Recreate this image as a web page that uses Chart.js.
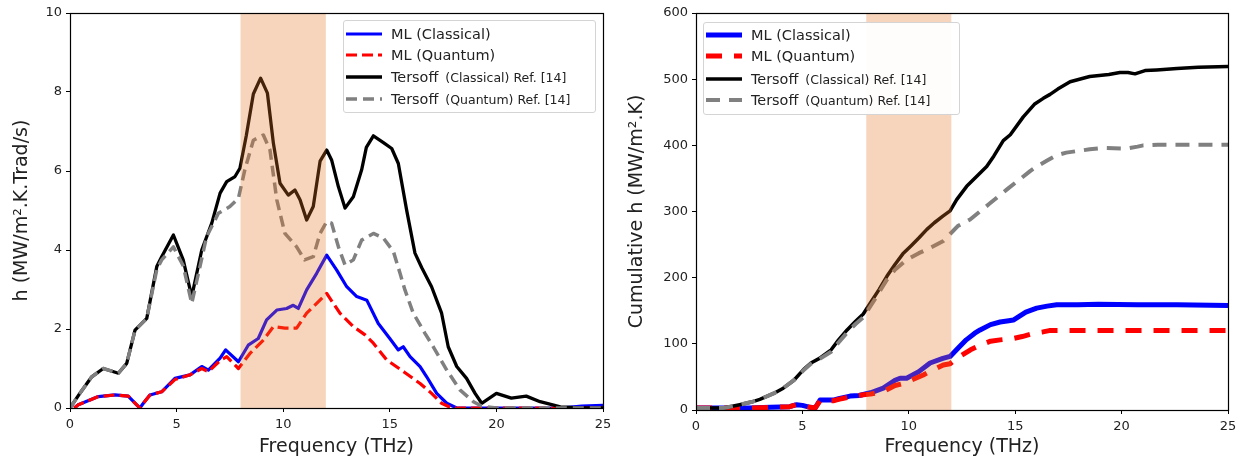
<!DOCTYPE html>
<html>
<head>
<meta charset="utf-8">
<script src="https://cdn.jsdelivr.net/npm/chart.js@4.4.1/dist/chart.umd.min.js"></script>
<style>
  body { margin: 0; background: #fff; }
  #wrap { position: relative; width: 1244px; height: 464px; font-family: 'DejaVu Sans', sans-serif; }
  canvas { position: absolute; top: 0; }
  .legend { position: absolute; background: rgba(255,255,255,0.95); border: 1px solid #d4d4d4; border-radius: 3px; box-sizing: border-box; }
  .row { position: absolute; left: 2px; height: 20px; display: flex; align-items: center; white-space: nowrap; color: #222; }
  .row svg { margin-right: 9px; }
  .big { font-size: 14.4px; margin-right: 7px; }
  .small { font-size: 12.5px; }
  .ml { font-size: 14.5px; }
</style>
</head>
<body>
<div id="wrap">
  <canvas id="hChart" width="620" height="464" style="left:0"></canvas>
  <canvas id="cumChart" width="624" height="464" style="left:620px"></canvas>
  <div id="hLegend" class="legend" style="left:343px; top:20px; width:253px; height:93px"></div>
  <div id="cumLegend" class="legend" style="left:703px; top:22px; width:257px; height:93px"></div>
</div>
<script>
// Etiquetas
const labels = ['ML (Classical)', 'ML (Quantum)', 'Tersoff  (Classical) Ref. [14]', 'Tersoff  (Quantum) Ref. [14]']
const bandRange = [8, 12] // zona sombreada (THz)

// Gráfico izquierdo: h espectral
const mlClassicalF = [0.2, 0.39, 1.33, 2.11, 2.73, 3.13, 3.28, 3.44, 3.75, 4.3, 4.92, 5.63, 6.18, 6.49, 7.04, 7.3, 7.9, 8.36, 8.83, 9.22, 9.7, 10.16, 10.47, 10.71, 11.1, 11.57, 12.04, 12.51, 12.98, 13.45, 13.92, 14.46, 15.0, 15.4, 15.63, 15.95, 16.42, 16.73, 17.2, 17.67, 18.14, 20, 23, 24, 25]
const mlClassicalH = [0, 0.08, 0.29, 0.33, 0.3, 0.08, 0, 0.12, 0.33, 0.41, 0.75, 0.84, 1.05, 0.96, 1.26, 1.47, 1.17, 1.59, 1.76, 2.23, 2.48, 2.52, 2.6, 2.52, 2.99, 3.41, 3.87, 3.49, 3.07, 2.82, 2.73, 2.14, 1.76, 1.47, 1.55, 1.3, 1.05, 0.79, 0.37, 0.12, 0, 0, 0, 0.05, 0.07]

const mlQuantumF = [0.2, 0.39, 1.33, 2.11, 2.73, 3.13, 3.28, 3.44, 3.75, 4.3, 4.92, 5.63, 6.18, 6.49, 7.04, 7.35, 7.9, 8.44, 9.07, 9.54, 10.08, 10.63, 11.1, 11.57, 12.04, 12.66, 13.29, 13.84, 14.23, 14.85, 15.7, 16.42, 16.96, 17.43, 17.9, 25]
const mlQuantumH = [0, 0.08, 0.29, 0.33, 0.3, 0.08, 0, 0.12, 0.33, 0.41, 0.72, 0.84, 1.0, 0.92, 1.2, 1.3, 1.0, 1.38, 1.72, 2.06, 2.02, 2.02, 2.4, 2.65, 2.9, 2.4, 2.06, 1.85, 1.64, 1.22, 0.9, 0.62, 0.37, 0.12, 0, 0]

const tersoffClassicalF = [0, 0.5, 1.02, 1.56, 2.27, 2.66, 3.05, 3.6, 4.07, 4.3, 4.85, 5.31, 5.71, 6.18, 6.65, 7.04, 7.35, 7.74, 7.97, 8.27, 8.6, 8.94, 9.26, 9.54, 9.85, 10.24, 10.55, 10.79, 11.1, 11.41, 11.73, 12.04, 12.27, 12.59, 12.9, 13.29, 13.68, 13.9, 14.23, 14.7, 15.09, 15.4, 15.79, 16.18, 16.5, 16.96, 17.43, 17.74, 18.14, 18.6, 19.0, 19.31, 20.0, 20.7, 21.4, 22.05, 23.0, 24.0, 25]
const tersoffClassicalH = [0, 0.4, 0.79, 1.0, 0.88, 1.13, 1.97, 2.27, 3.58, 3.83, 4.38, 3.75, 2.82, 4.0, 4.68, 5.44, 5.73, 5.86, 6.07, 6.9, 7.95, 8.35, 7.97, 6.7, 5.69, 5.39, 5.52, 5.27, 4.76, 5.1, 6.25, 6.53, 6.28, 5.6, 5.06, 5.35, 6.03, 6.6, 6.89, 6.72, 6.57, 6.19, 5.01, 3.92, 3.55, 3.07, 2.4, 1.55, 1.05, 0.75, 0.37, 0.12, 0.37, 0.25, 0.3, 0.16, 0.03, 0, 0]

const tersoffQuantumF = [0, 0.5, 1.02, 1.56, 2.27, 2.66, 3.05, 3.6, 4.07, 4.3, 4.85, 5.31, 5.71, 6.41, 6.96, 7.5, 7.9, 8.2, 8.6, 9.07, 9.38, 9.7, 10.08, 10.63, 11.0, 11.41, 11.73, 12.04, 12.27, 12.59, 12.9, 13.29, 13.68, 14.23, 14.7, 15.17, 15.48, 15.71, 16.1, 16.65, 17.04, 17.67, 18.29, 18.92, 19.3, 20, 25]
const tersoffQuantumH = [0, 0.4, 0.79, 1.0, 0.88, 1.13, 1.97, 2.27, 3.5, 3.75, 4.08, 3.6, 2.65, 4.34, 4.93, 5.1, 5.31, 6.03, 6.78, 6.91, 6.53, 5.27, 4.42, 4.08, 3.75, 3.83, 4.42, 4.72, 4.68, 4.08, 3.62, 3.75, 4.25, 4.42, 4.3, 3.96, 3.41, 2.99, 2.4, 1.89, 1.55, 0.96, 0.46, 0.16, 0.05, 0, 0]

// Gráfico derecho: h acumulado
const mlClassicalCumF = [0, 2.5, 3.5, 4.4, 4.73, 5.0, 5.36, 5.6, 5.83, 6.45, 6.7, 7.24, 7.67, 8.2, 8.8, 9.35, 9.59, 9.9, 10.47, 11.0, 11.6, 11.94, 12.3, 12.7, 13.1, 13.35, 13.84, 14.29, 14.7, 14.91, 15.5, 16.01, 16.5, 16.95, 17.95, 18.9, 20.75, 22.6, 25]
const mlClassicalCum = [3, 3, 4, 5, 8, 7, 4, 3, 15, 15, 17, 21, 22, 26, 33, 45, 48, 48, 58, 71, 78, 81, 93, 106, 116, 121, 129, 133, 135, 136, 148, 154, 157, 159, 159, 160, 159, 159, 158]

const mlQuantumCumF = [0, 2.5, 3.5, 4.4, 4.73, 5.0, 5.36, 5.6, 5.83, 6.45, 6.7, 7.24, 7.86, 8.2, 8.8, 9.35, 9.74, 10.1, 10.68, 11.1, 11.62, 11.94, 12.25, 12.9, 13.35, 13.84, 14.29, 14.91, 15.33, 15.9, 16.3, 16.6, 17.0, 25]
const mlQuantumCum = [3, 3, 4, 5, 8, 7, 4, 3, 14, 14, 16, 20, 23, 24, 28, 37, 40, 45, 53, 60, 68, 70, 78, 91, 98, 104, 106, 108, 111, 116, 118, 120, 120, 120]

const tersoffClassicalCumF = [0, 1.3, 2.05, 2.6, 3.0, 3.65, 4.1, 4.6, 5.05, 5.4, 5.8, 6.35, 6.7, 7.1, 7.5, 7.86, 8.2, 8.6, 8.97, 9.35, 9.72, 10.1, 10.47, 10.85, 11.2, 11.6, 11.94, 12.25, 12.72, 13.28, 13.66, 14.0, 14.44, 14.77, 15.38, 15.9, 16.32, 16.64, 17.0, 17.58, 18.5, 19.4, 19.92, 20.3, 20.63, 21.1, 21.65, 22.6, 23.6, 25]
const tersoffClassicalCum = [3, 3, 8, 12, 16, 25, 33, 45, 61, 71, 78, 91, 106, 121, 134, 145, 162, 182, 202, 220, 236, 248, 260, 273, 283, 293, 301, 318, 338, 356, 368, 384, 407, 416, 443, 462, 471, 477, 485, 496, 504, 507, 510, 510, 508, 513, 514, 516, 518, 519]

const tersoffQuantumCumF = [0, 1.3, 2.05, 2.6, 3.0, 3.65, 4.1, 4.6, 5.05, 5.4, 5.8, 6.35, 6.7, 7.1, 7.5, 7.86, 8.4, 8.97, 9.35, 9.9, 10.47, 11.0, 11.6, 11.94, 12.3, 12.88, 13.46, 13.8, 14.6, 15.07, 15.7, 16.01, 16.5, 16.95, 17.4, 18.5, 19.1, 20.24, 20.75, 21.02, 21.7, 25]
const tersoffQuantumCum = [3, 3, 8, 12, 16, 25, 33, 45, 60, 70, 77, 88, 102, 117, 130, 140, 167, 197, 212, 227, 237, 245, 255, 266, 278, 288, 303, 312, 333, 345, 361, 368, 377, 385, 389, 394, 396, 395, 398, 400, 401, 401]

const toPoints = (fs, vs) => fs.map((f, i) => ({ x: f, y: vs[i] }))

// Banda sombreada encima de las curvas + marco completo
const bandPlugin = {
    id: 'band',
    afterDatasetsDraw(chart) {
        const { ctx, chartArea: a, scales: { x } } = chart
        const x0 = x.getPixelForValue(bandRange[0])
        const x1 = x.getPixelForValue(bandRange[1])
        ctx.save()
        ctx.fillStyle = 'rgba(228, 115, 38, 0.3)'
        ctx.fillRect(x0, a.top, x1 - x0, a.bottom - a.top)
        ctx.restore()
    },
    afterDraw(chart) {
        const { ctx, chartArea: a } = chart
        ctx.save()
        ctx.strokeStyle = '#000'
        ctx.lineWidth = 1.2
        ctx.strokeRect(Math.round(a.left) + 0.5, Math.round(a.top) + 0.5, Math.round(a.right - a.left), Math.round(a.bottom - a.top))
        ctx.restore()
    }
}

const makeDatasets = (series, styles) => series.map((data, i) => ({
    label: labels[i],
    data: data,
    borderColor: styles[i].color,
    borderWidth: styles[i].width,
    borderDash: styles[i].dash,
    order: 4 - i, // las curvas Tersoff quedan encima
    pointRadius: 0,
    tension: 0,
    fill: false,
    borderJoinStyle: 'round'
}))

const makeOptions = (yMax, yStep, yTitle, yWidth, xHeight, padRight, titlePad) => ({
    responsive: false,
    animation: false,
    layout: { padding: { top: 13, right: padRight, left: 0, bottom: 0 } },
    plugins: { legend: { display: false }, tooltip: { enabled: false } },
    scales: {
        x: {
            type: 'linear', min: 0, max: 25,
            ticks: { stepSize: 5, color: '#222', font: { family: 'DejaVu Sans', size: 13 }, padding: 5, maxRotation: 0 },
            grid: { drawOnChartArea: false, drawTicks: true, tickLength: 4, color: '#000' },
            border: { display: true, color: '#000', width: 1 },
            title: { display: true, text: 'Frequency (THz)', color: '#222', font: { family: 'DejaVu Sans', size: 19 }, padding: { top: 0, bottom: 6 } },
            afterFit: s => { s.height = xHeight }
        },
        y: {
            type: 'linear', min: 0, max: yMax,
            ticks: { stepSize: yStep, color: '#222', font: { family: 'DejaVu Sans', size: 13 }, padding: 4 },
            grid: { drawOnChartArea: false, drawTicks: true, tickLength: 4, color: '#000' },
            border: { display: true, color: '#000', width: 1 },
            title: { display: true, text: yTitle, color: '#222', font: { family: 'DejaVu Sans', size: 19 }, padding: { top: titlePad, bottom: 0 } },
            afterFit: s => { s.width = yWidth }
        }
    }
})

const leftStyles = [
    { color: '#0000ff', width: 3.2, dash: [] },
    { color: '#ff0000', width: 3.2, dash: [11, 5] },
    { color: '#000000', width: 3.3, dash: [] },
    { color: '#808080', width: 3.5, dash: [11, 6] }
]
const rightStyles = [
    { color: '#0000ff', width: 5, dash: [] },
    { color: '#ff0000', width: 5, dash: [16, 12] },
    { color: '#000000', width: 3.5, dash: [] },
    { color: '#808080', width: 4, dash: [14, 9] }
]

const hChart = new Chart(document.getElementById('hChart'), {
    type: 'line',
    data: {
        datasets: makeDatasets([
            toPoints(mlClassicalF, mlClassicalH),
            toPoints(mlQuantumF, mlQuantumH),
            toPoints(tersoffClassicalF, tersoffClassicalH),
            toPoints(tersoffQuantumF, tersoffQuantumH)
        ], leftStyles)
    },
    options: makeOptions(10, 2, 'h (MW/m\u00b2.K.Trad/s)', 70, 56, 17, 11),
    plugins: [bandPlugin]
})

const cumChart = new Chart(document.getElementById('cumChart'), {
    type: 'line',
    data: {
        datasets: makeDatasets([
            toPoints(mlClassicalCumF, mlClassicalCum),
            toPoints(mlQuantumCumF, mlQuantumCum),
            toPoints(tersoffClassicalCumF, tersoffClassicalCum),
            toPoints(tersoffQuantumCumF, tersoffQuantumCum)
        ], rightStyles)
    },
    options: makeOptions(600, 100, 'Cumulative h (MW/m\u00b2.K)', 76, 54, 16, 6),
    plugins: [bandPlugin]
})

// Leyenda HTML (dentro del área del gráfico)
const buildLegend = (el, chart, rowTops) => {
    chart.data.datasets.forEach((ds, i) => {
        const row = document.createElement('div')
        row.className = 'row'
        row.style.top = (rowTops[i] - 10) + 'px'
        const dash = ds.borderDash.length ? ds.borderDash.join(' ') : 'none'
        row.innerHTML = '<svg width="36" height="8"><line x1="0" y1="4" x2="36" y2="4" stroke="' + ds.borderColor +
            '" stroke-width="' + ds.borderWidth + '" stroke-dasharray="' + dash + '"/></svg>'
        const parts = ds.label.split('  ')
        if (parts.length > 1) {
            row.innerHTML += '<span class="big">' + parts[0] + '</span><span class="small">' + parts[1] + '</span>'
        } else {
            row.innerHTML += '<span class="ml">' + parts[0] + '</span>'
        }
        el.appendChild(row)
    })
}

buildLegend(document.getElementById('hLegend'), hChart, [13, 34, 56, 78])
buildLegend(document.getElementById('cumLegend'), cumChart, [12, 33, 56, 77])
</script>
</body>
</html>
